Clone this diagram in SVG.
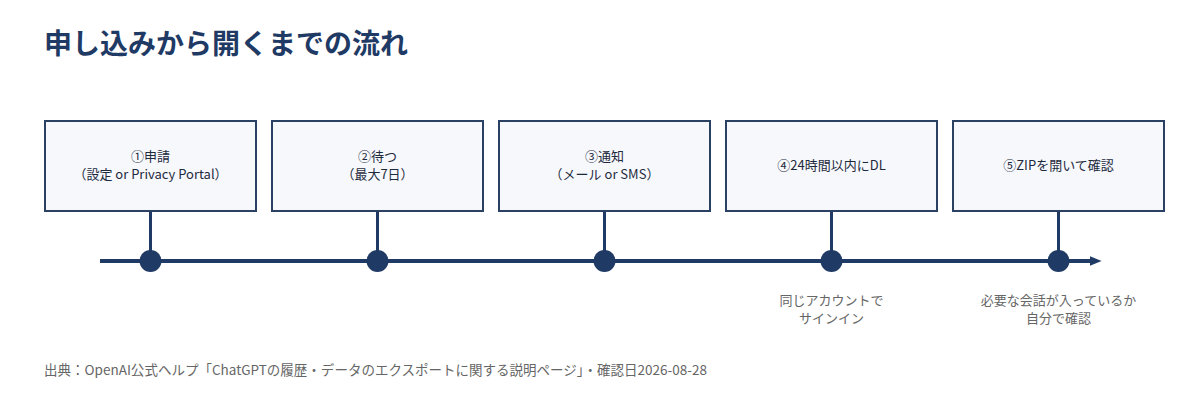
<svg xmlns="http://www.w3.org/2000/svg" width="1200" height="400" viewBox="0 0 1200 400">
<defs>
<style>
text{font-family:"Noto Sans CJK JP","Noto Sans",sans-serif}
.title{font-size:28px;font-weight:bold;fill:#1f3a64}
.box{fill:#f6f8fc;stroke:#2b4164;stroke-width:2}
.bt{font-size:13px;fill:#1e2a3c;text-anchor:middle}
.note{font-size:13px;fill:#666;text-anchor:middle}
.src{font-size:13.5px;fill:#666}
.line{stroke:#1f3a64;stroke-width:4}
.stem{stroke:#1f3a64;stroke-width:3}
.dot{fill:#1f3a64}
</style>
<marker id="arr" viewBox="0 0 10 10" refX="2" refY="5" markerWidth="3" markerHeight="3" orient="auto" markerUnits="strokeWidth">
<path d="M0,1 L10,5 L0,9 z" fill="#1f3a64"/>
</marker>
</defs>
<text class="title" x="44" y="54">申し込みから開くまでの流れ</text>
<g id="connectors">
<line class="line" x1="100" y1="261" x2="1092" y2="261" marker-end="url(#arr)"/>
<line class="stem" x1="150.5" y1="211" x2="150.5" y2="261"/>
<line class="stem" x1="377.5" y1="211" x2="377.5" y2="261"/>
<line class="stem" x1="604.5" y1="211" x2="604.5" y2="261"/>
<line class="stem" x1="831.5" y1="211" x2="831.5" y2="261"/>
<line class="stem" x1="1058.5" y1="211" x2="1058.5" y2="261"/>
</g>
<g id="node1">
<rect class="box" x="45" y="121" width="211" height="90"/>
<text class="bt" x="150.5" y="161">①申請</text>
<text class="bt" x="150.5" y="179">（設定 or Privacy Portal）</text>
<circle class="dot" cx="150.5" cy="261" r="11"/>
</g>
<g id="node2">
<rect class="box" x="272" y="121" width="211" height="90"/>
<text class="bt" x="377.5" y="161">②待つ</text>
<text class="bt" x="377.5" y="179">（最大7日）</text>
<circle class="dot" cx="377.5" cy="261" r="11"/>
</g>
<g id="node3">
<rect class="box" x="499" y="121" width="211" height="90"/>
<text class="bt" x="604.5" y="161">③通知</text>
<text class="bt" x="604.5" y="179">（メール or SMS）</text>
<circle class="dot" cx="604.5" cy="261" r="11"/>
</g>
<g id="node4">
<rect class="box" x="726" y="121" width="211" height="90"/>
<text class="bt" x="831.5" y="170">④24時間以内にDL</text>
<circle class="dot" cx="831.5" cy="261" r="11"/>
<text class="note" x="831.5" y="305">同じアカウントで</text>
<text class="note" x="831.5" y="323">サインイン</text>
</g>
<g id="node5">
<rect class="box" x="953" y="121" width="211" height="90"/>
<text class="bt" x="1058.5" y="170">⑤ZIPを開いて確認</text>
<circle class="dot" cx="1058.5" cy="261" r="11"/>
<text class="note" x="1058.5" y="305">必要な会話が入っているか</text>
<text class="note" x="1058.5" y="323">自分で確認</text>
</g>
<text class="src" x="44" y="375" textLength="663" lengthAdjust="spacing">出典：OpenAI公式ヘルプ「ChatGPTの履歴・データのエクスポートに関する説明ページ」・確認日2026-08-28</text>
</svg>
